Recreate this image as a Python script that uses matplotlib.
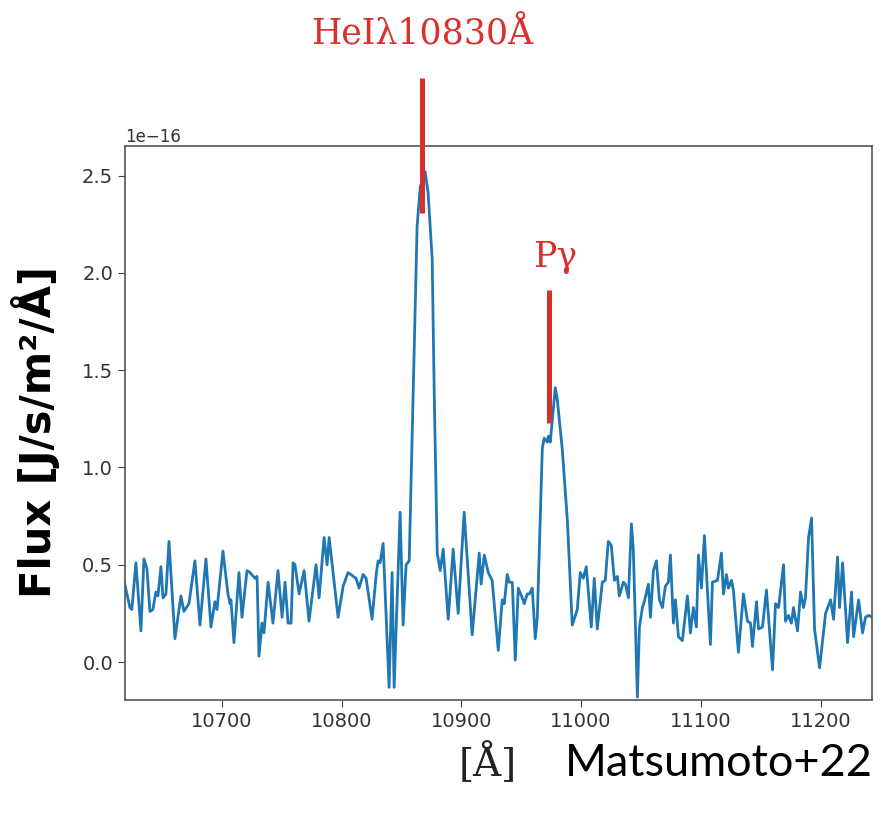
import numpy as np
import matplotlib
matplotlib.use("Agg")
import matplotlib.pyplot as plt

# spectrum (wavelength in Angstrom, flux in 1e-16 J/s/m^2/A)
wavelength = [
    10618.1, 10623.1, 10624.7, 10628.1, 10632.3, 10634.8, 10637.3, 10639.8, 10642.3, 10644.8,
    10646.5, 10649.0, 10650.7, 10653.2, 10655.7, 10660.7, 10665.7, 10668.2, 10672.4, 10677.4,
    10681.6, 10686.6, 10690.8, 10694.1, 10695.8, 10700.8, 10705.0, 10706.7, 10707.5, 10710.0,
    10714.2, 10716.7, 10720.9, 10723.4, 10727.6, 10729.3, 10730.9, 10733.4, 10735.1, 10738.5,
    10742.6, 10746.8, 10750.2, 10752.7, 10755.2, 10757.7, 10759.4, 10761.0, 10764.4, 10768.6,
    10772.7, 10778.6, 10781.1, 10785.3, 10787.8, 10789.5, 10797.0, 10801.2, 10805.3, 10812.0,
    10814.5, 10817.9, 10820.4, 10825.4,
    10828.8, 10830.4, 10832.1, 10834.6, 10839.6, 10842.1, 10843.8, 10848.8, 10851.3, 10853.8,
    10856.4, 10859.7, 10863.0, 10865.6, 10869.7, 10872.2, 10875.6, 10877.3, 10879.8, 10882.3,
    10884.8, 10889.0, 10893.1, 10897.3, 10902.3, 10909.0, 10914.9, 10916.5, 10919.1, 10922.4,
    10925.7, 10930.8,
    10934.1, 10935.8, 10938.3, 10940.0, 10942.5, 10945.0, 10947.5, 10950.8, 10952.5, 10955.0,
    10956.7, 10959.2, 10961.7, 10963.4, 10967.6, 10969.2, 10971.7, 10972.6, 10974.2, 10975.9,
    10978.4, 10980.1, 10984.3, 10988.5, 10992.6, 10996.8, 10999.3, 11001.8, 11004.3, 11008.5,
    11011.0, 11013.5, 11017.7, 11020.2, 11022.7, 11025.2, 11027.8, 11030.3, 11031.9, 11035.3,
    11037.0, 11039.5, 11042.0, 11043.6, 11047.0, 11048.7, 11051.2, 11052.8, 11056.2, 11057.9,
    11060.4, 11062.9, 11065.4, 11067.9, 11070.4, 11072.9, 11074.6, 11077.1, 11078.8, 11081.3,
    11084.6, 11088.8, 11091.3, 11093.8, 11096.3, 11098.0, 11100.5, 11103.0, 11108.0, 11109.7,
    11113.9, 11117.2, 11118.9, 11121.4, 11123.1, 11125.6, 11127.2, 11131.4, 11135.6, 11139.0,
    11141.5, 11143.1,
    11146.5, 11148.2, 11151.5, 11154.8, 11159.9, 11162.4, 11164.9, 11169.1, 11170.7, 11173.2,
    11175.7, 11177.4, 11180.8, 11183.3, 11185.8, 11187.4, 11190.0, 11192.5, 11195.0, 11199.2,
    11204.2, 11208.4, 11210.9, 11214.2, 11215.9, 11218.4, 11222.6, 11225.9, 11227.6, 11231.8,
    11235.1, 11237.6, 11240.1, 11243.5,
]
flux = [
    0.42, 0.28, 0.27, 0.51, 0.16, 0.53, 0.48, 0.26, 0.27, 0.36,
    0.34, 0.49, 0.33, 0.35, 0.62, 0.12, 0.34, 0.26, 0.30, 0.52,
    0.19, 0.53, 0.18, 0.31, 0.27, 0.57, 0.35, 0.30, 0.32, 0.10,
    0.46, 0.23, 0.47, 0.46, 0.43, 0.44, 0.03, 0.20, 0.15, 0.41,
    0.20, 0.47, 0.23, 0.41, 0.20, 0.20, 0.51, 0.50, 0.35, 0.47,
    0.21, 0.50, 0.33, 0.64, 0.50, 0.64, 0.23, 0.39, 0.46, 0.43,
    0.38, 0.45, 0.43, 0.22,
    0.45, 0.52, 0.51, 0.61, -0.13, 0.46, -0.13, 0.77, 0.19, 0.50,
    0.52, 1.38, 2.24, 2.44, 2.52, 2.41, 2.07, 1.38, 0.56, 0.47,
    0.58, 0.22, 0.58, 0.25, 0.77, 0.14, 0.56, 0.40, 0.55, 0.46,
    0.42, 0.06,
    0.32, 0.30, 0.45, 0.41, 0.41, 0.01, 0.38, 0.33, 0.30, 0.35,
    0.35, 0.38, 0.12, 0.23, 1.10, 1.15, 1.13, 1.16, 1.13, 1.24,
    1.41, 1.35, 1.09, 0.73, 0.19, 0.27, 0.46, 0.43, 0.49, 0.18,
    0.43, 0.17, 0.41, 0.42, 0.62, 0.60, 0.42, 0.44, 0.34, 0.41,
    0.40, 0.33, 0.71, 0.58, -0.18, 0.18, 0.28, 0.31, 0.40, 0.23,
    0.47, 0.52, 0.32, 0.28, 0.39, 0.41, 0.55, 0.20, 0.32, 0.13,
    0.11, 0.34, 0.15, 0.28, 0.18, 0.55, 0.38, 0.65, 0.09, 0.41,
    0.42, 0.56, 0.35, 0.45, 0.38, 0.42, 0.37, 0.05, 0.35, 0.21,
    0.20, 0.08,
    0.31, 0.17, 0.18, 0.37, -0.04, 0.30, 0.28, 0.50, 0.21, 0.24,
    0.20, 0.28, 0.16, 0.36, 0.28, 0.33, 0.64, 0.74, 0.17, -0.03,
    0.25, 0.32, 0.22, 0.54, 0.28, 0.51, 0.10, 0.36, 0.13, 0.32,
    0.15, 0.23, 0.24, 0.23,
]

xticks = [10700, 10800, 10900, 11000, 11100, 11200]
yticks = [0.0, 0.5, 1.0, 1.5, 2.0, 2.5]

# line markers: (wavelength, flux bottom, flux top) in units of 1e-16
hei_mark = (10867.2, 2.31, 3.0)
pgamma_mark = (10973.4, 1.23, 1.91)

red = "#d9302c"
scale = 1e-16

fig = plt.figure(figsize=(8.81, 8.15), dpi=100)
ax = fig.add_axes([0.1419, 0.1411, 0.8479, 0.6798])

ax.plot(wavelength, np.array(flux) * scale, color="#1f77b4", lw=2.0)
ax.set_xlim(10619, 11243)
ax.set_ylim(-0.195 * scale, 2.652 * scale)
ax.set_xticks(xticks)
ax.set_yticks(np.array(yticks) * scale)
ax.tick_params(labelsize=14, length=5, color="#444444", labelcolor="#333333")
ax.yaxis.get_offset_text().set_fontsize(12)
for sp in ax.spines.values():
    sp.set_color("#555555")
    sp.set_linewidth(1.2)

for wl, lo, hi in (hei_mark, pgamma_mark):
    ax.plot([wl, wl], [lo * scale, hi * scale], color=red, lw=3.6,
            solid_capstyle="butt", clip_on=False, zorder=5)

fig.text(0.479, 0.959, "HeI\u03bb10830\u00c5", color=red, fontsize=25,
         family="DejaVu Serif", ha="center", va="center")
fig.text(0.630, 0.685, "P\u03b3", color=red, fontsize=25,
         family="DejaVu Serif", ha="center", va="center")

fig.text(0.040, 0.47, "Flux [J/s/m\u00b2/\u00c5]", rotation=90, fontsize=30,
         fontweight="bold", family="DejaVu Sans", ha="center", va="center")
fig.text(0.554, 0.063, "[\u00c5]", fontsize=28, family="DejaVu Serif",
         ha="center", va="center", color="#222222")
fig.text(0.641, 0.063, "Matsumoto+22", fontsize=32.5, family="Lato",
         ha="left", va="center")

fig.savefig("out.png", dpi=100)
